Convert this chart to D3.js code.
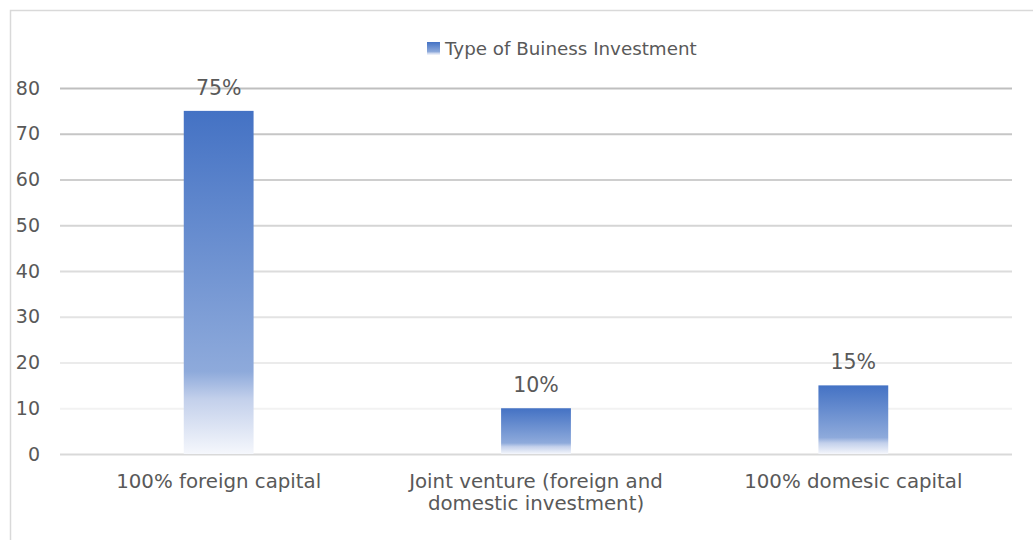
<!DOCTYPE html>
<html>
<head>
<meta charset="utf-8">
<script src="https://cdn.jsdelivr.net/npm/d3@7"></script>
<style>
  html, body { margin: 0; padding: 0; background: #ffffff; }
  svg { display: block; }
  text { font-family: "Century Gothic", "DejaVu Sans", sans-serif; fill: #595959; }
</style>
</head>
<body>
<svg id="chart" width="1033" height="540"></svg>
<script>
// Business investment types, share in percent
const categories = [
  "100% foreign capital",
  "Joint venture (foreign and\ndomestic investment)",
  "100% domesic capital"
];
const values = [75, 10, 15];
const valueLabels = ["75%", "10%", "15%"];
const yTicks = [0, 10, 20, 30, 40, 50, 60, 70, 80];
const seriesName = "Type of Buiness Investment";

const W = 1033, H = 540;
const margin = { top: 88, right: 21, bottom: 86, left: 60 };

const svg = d3.select("#chart");

// chart frame (left and top edges visible)
svg.append("path")
  .attr("d", `M10.5,${H} V10.5 H${W}`)
  .attr("fill", "none")
  .attr("stroke", "#d9d9d9")
  .attr("stroke-width", 1.5);

const x = d3.scaleBand()
  .domain(categories)
  .range([margin.left, W - margin.right])
  .paddingInner(0.78)
  .paddingOuter(0.39);

const y = d3.scaleLinear()
  .domain([0, 80])
  .range([H - margin.bottom, margin.top]);

// gradient fill for the bars: solid blue fading to white near the base
const defs = svg.append("defs");
const grad = defs.append("linearGradient")
  .attr("id", "barGrad")
  .attr("x1", 0).attr("y1", 0).attr("x2", 0).attr("y2", 1);
[
  [0, "#4472c4"],
  [0.76, "#8eaadb"],
  [0.84, "#c3d0eb"],
  [1, "#f5f7fc"]
].forEach(([o, c]) => grad.append("stop").attr("offset", o).attr("stop-color", c));

// gridlines, lighter towards the base
const gridColor = d3.scaleLinear().domain([80, 10]).range(["#bfbfbf", "#f2f2f2"]);
const yAxis = d3.axisLeft(y).tickValues(yTicks).tickSize(-(W - margin.left - margin.right)).tickPadding(20);
const gy = svg.append("g")
  .attr("transform", `translate(${margin.left},0)`)
  .call(yAxis);
gy.select(".domain").remove();
gy.selectAll(".tick line")
  .attr("stroke", d => d === 0 ? "#d9d9d9" : gridColor(d))
  .attr("stroke-width", 1.8);
gy.selectAll(".tick text")
  .attr("x", -20)
  .style("font-size", "19px")
  .style("font-family", "\"Century Gothic\", \"DejaVu Sans\", sans-serif")
  .attr("fill", "#595959");

// bars
const data = categories.map((c, i) => ({ c, v: values[i], label: valueLabels[i] }));
svg.append("g").selectAll("rect")
  .data(data)
  .join("rect")
  .attr("x", d => x(d.c))
  .attr("width", x.bandwidth())
  .attr("y", d => y(d.v))
  .attr("height", d => y(0) - y(d.v))
  .attr("fill", "url(#barGrad)");

// value labels
svg.append("g").selectAll("text")
  .data(data)
  .join("text")
  .attr("x", d => x(d.c) + x.bandwidth() / 2)
  .attr("y", d => y(d.v) - 16)
  .attr("text-anchor", "middle")
  .style("font-size", "20.5px")
  .text(d => d.label);

// category labels (wrapped on explicit line breaks)
const cat = svg.append("g").selectAll("text")
  .data(categories)
  .join("text")
  .attr("x", d => x(d) + x.bandwidth() / 2)
  .attr("y", y(0) + 34)
  .attr("text-anchor", "middle")
  .style("font-size", "19.8px");
cat.each(function (d) {
  const t = d3.select(this);
  d.split("\n").forEach((line, i) => {
    t.append("tspan")
      .attr("x", x(d) + x.bandwidth() / 2)
      .attr("dy", i === 0 ? 0 : 22)
      .text(line);
  });
});

// legend
const lg = svg.append("g").attr("transform", "translate(427,42)");
lg.append("rect").attr("width", 13).attr("height", 13).attr("fill", "url(#barGrad)");
lg.append("text")
  .attr("x", 18)
  .attr("y", 13)
  .style("font-size", "18.3px")
  .text(seriesName);
</script>
</body>
</html>
